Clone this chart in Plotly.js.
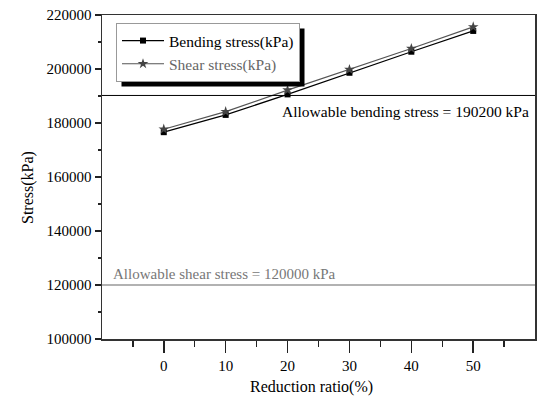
<!DOCTYPE html>
<html>
<head>
<meta charset="utf-8">
<script src="https://cdn.plot.ly/plotly-3.0.1.min.js"></script>
<style>html,body{margin:0;padding:0;background:#fff;}#chart{width:545px;height:398px;}</style>
</head>
<body>
<div id="chart"></div>
<script>
const ratio = [0, 10, 20, 30, 40, 50];
const bendingStress = [176600, 183000, 190600, 198600, 206400, 214100];
const shearStress = [177700, 184200, 192200, 199800, 207600, 215600];
const allowableBending = 190200;
const allowableShear = 120000;
const xTicks = [0, 10, 20, 30, 40, 50];
const yTicks = [100000, 120000, 140000, 160000, 180000, 200000, 220000];

const FONT = 'Liberation Serif, Times New Roman, serif';

const traces = [
  {
    x: ratio, y: bendingStress, name: 'Bending stress(kPa)',
    mode: 'lines+markers', type: 'scatter',
    line: {color: '#000', width: 1.2},
    marker: {symbol: 'square', size: 6, color: '#000'}
  },
  {
    x: ratio, y: shearStress, name: '<span style="color:#666">Shear stress(kPa)</span>',
    mode: 'lines+markers', type: 'scatter',
    line: {color: '#555', width: 1.2},
    marker: {symbol: 'star', size: 8, color: '#444'}
  }
];

function px2x(px) { return (px - 102) / 433; }
function px2y(py) { return (339 - py) / 324; }

const layout = {
  width: 545, height: 398,
  margin: {l: 102, r: 10, t: 15, b: 59},
  paper_bgcolor: '#fff', plot_bgcolor: '#fff',
  font: {family: FONT, size: 15, color: '#000'},
  showlegend: true,
  legend: {
    x: px2x(116), y: px2y(23), xanchor: 'left', yanchor: 'top',
    bgcolor: '#fff', bordercolor: '#999', borderwidth: 1,
    font: {family: FONT, size: 15.5, color: '#000'},
    itemwidth: 42,
    tracegroupgap: 0
  },
  xaxis: {
    range: [-9.98, 59.98],
    tickvals: xTicks, ticktext: xTicks.map(String),
    ticks: 'outside', ticklen: 12, tickwidth: 1.5, tickcolor: '#222',
    minor: {tick0: -5, dtick: 5, ticks: 'outside', ticklen: 6, tickwidth: 1.5, tickcolor: '#222', showgrid: false},
    showline: true, linecolor: '#333', linewidth: 1.5, mirror: true,
    showgrid: false, zeroline: false,
    tickfont: {family: FONT, size: 15, color: '#000'}
  },
  yaxis: {
    range: [100000, 220000],
    tickvals: yTicks, ticktext: yTicks.map(String),
    ticks: 'outside', ticklen: 6, tickwidth: 1.5, tickcolor: '#222',
    minor: {dtick: 10000, ticks: 'outside', ticklen: 3, tickwidth: 1.5, tickcolor: '#222', showgrid: false},
    showline: true, linecolor: '#333', linewidth: 1.5, mirror: true,
    showgrid: false, zeroline: false,
    tickfont: {family: FONT, size: 15, color: '#000'}
  },
  shapes: [
    {type: 'line', xref: 'paper', yref: 'y', x0: 0, x1: 1, y0: allowableBending, y1: allowableBending,
     line: {color: '#000', width: 1}},
    {type: 'line', xref: 'paper', yref: 'y', x0: 0, x1: 1, y0: allowableShear, y1: allowableShear,
     line: {color: '#999', width: 1.5}}
  ],
  annotations: [
    {text: 'Allowable bending stress = ' + allowableBending + ' kPa', xref: 'paper', yref: 'y',
     x: px2x(531), y: 184400, xanchor: 'right', yanchor: 'middle', showarrow: false,
     font: {family: FONT, size: 15.5, color: '#000'}},
    {text: 'Allowable shear stress = ' + allowableShear + ' kPa', xref: 'paper', yref: 'y',
     x: px2x(111), y: 123900, xanchor: 'left', yanchor: 'middle', showarrow: false,
     font: {family: FONT, size: 15, color: '#777'}},
    {text: 'Stress(kPa)', xref: 'paper', yref: 'paper', x: px2x(28), y: px2y(188),
     xanchor: 'center', yanchor: 'middle', textangle: -90, showarrow: false,
     font: {family: FONT, size: 16, color: '#000'}},
    {text: 'Reduction ratio(%)', xref: 'paper', yref: 'paper', x: px2x(311), y: px2y(387),
     xanchor: 'center', yanchor: 'middle', showarrow: false,
     font: {family: FONT, size: 16, color: '#000'}}
  ]
};

Plotly.newPlot('chart', traces, layout, {displayModeBar: false, staticPlot: true}).then(function (gd) {
  // legend drop shadow, sized from the legend Plotly drew
  const bg = gd.querySelector('.legend .bg');
  if (!bg) return;
  const r = bg.getBoundingClientRect();
  const c = gd.getBoundingClientRect();
  const L = r.left - c.left, T = r.top - c.top, R = r.right - c.left, B = r.bottom - c.top;
  const shadow = {type: 'rect', xref: 'paper', yref: 'paper',
    x0: px2x(L + 5), x1: px2x(R + 5), y0: px2y(B + 5), y1: px2y(T + 5),
    fillcolor: '#000', line: {width: 0}, layer: 'above'};
  return Plotly.relayout(gd, {shapes: layout.shapes.concat([shadow])});
});
</script>
</body>
</html>
